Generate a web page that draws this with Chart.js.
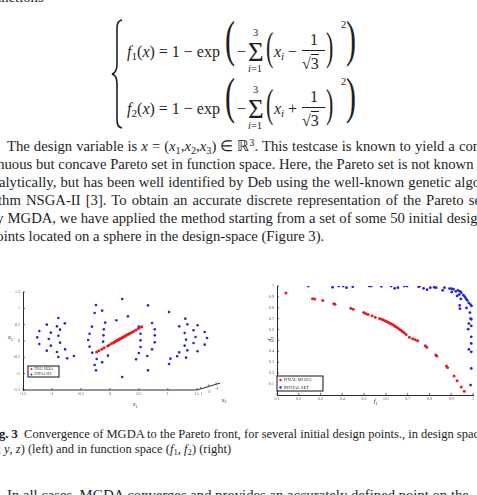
<!DOCTYPE html>
<html>
<head>
<meta charset="utf-8">
<script src="https://cdn.jsdelivr.net/npm/chart.js@4.4.0/dist/chart.umd.min.js"></script>
<style>
  html, body { margin: 0; padding: 0; background: #fff; }
  body { width: 477px; height: 495px; position: relative; overflow: hidden;
         font-family: "Liberation Serif", serif; color: #1e1e1e; }
  sub, sup { line-height: 0; font-size: 70%; }
  sub { vertical-align: -0.25em; }
  sup { vertical-align: 0.45em; }
  .ln { position: absolute; left: -11px; white-space: nowrap; font-size: 14.7px; line-height: 18px; }
  .just { width: 496px; text-align: justify; text-align-last: justify; }
  .cap { font-size: 12.5px; left: -12px; }
  .m { position: absolute; line-height: 1; white-space: nowrap; font-size: 16px; font-family: "Liberation Serif", serif; }
  .big { font-size: 50px; transform: scaleX(0.6); transform-origin: left top; }
  .mid { font-size: 40px; transform: scaleX(0.55); transform-origin: left top; }
  .sm { font-size: 10.5px; }
  .bar { position: absolute; width: 23px; border-top: 1px solid #1e1e1e; }
  .chart { position: absolute; }
</style>
</head>
<body>

<div class="ln" style="top:-12px;">functions</div>

<!-- system of equations -->
<svg style="position:absolute;left:0;top:0" width="140" height="140">
  <path d="M122,20 C117,21 117,25 117,31 L117,64 C117,70 116,73 112,74 C116,75 117,78 117,84 L117,117 C117,123 117,127 122,128"
        fill="none" stroke="#1e1e1e" stroke-width="1.6"/>
</svg>

<div class="m" style="left:127px;top:44px"><i>f</i><sub>1</sub>(<i>x</i>) = 1 − exp</div>
<div class="m big" style="left:225px;top:14px">(</div>
<div class="m" style="left:237px;top:44px">−</div>
<div class="m" style="left:248px;top:39px;font-size:27px">Σ</div>
<div class="m sm" style="left:253px;top:28px">3</div>
<div class="m sm" style="left:248px;top:64px"><i>i</i>=1</div>
<div class="m mid" style="left:266px;top:27px">(</div>
<div class="m" style="left:274px;top:44px"><i>x<sub>i</sub></i></div>
<div class="m" style="left:288px;top:44px">−</div>
<div class="m" style="left:310px;top:32px">1</div>
<div class="bar" style="left:302px;top:50px"></div>
<div class="m" style="left:302px;top:56px">√<span style="border-top:1px solid #1e1e1e">3</span></div>
<div class="m mid" style="left:326px;top:27px">)</div>
<div class="m sm" style="left:341px;top:20px">2</div>
<div class="m big" style="left:346px;top:14px">)</div>

<div class="m" style="left:127px;top:101px"><i>f</i><sub>2</sub>(<i>x</i>) = 1 − exp</div>
<div class="m big" style="left:225px;top:71px">(</div>
<div class="m" style="left:237px;top:101px">−</div>
<div class="m" style="left:248px;top:96px;font-size:27px">Σ</div>
<div class="m sm" style="left:253px;top:85px">3</div>
<div class="m sm" style="left:248px;top:121px"><i>i</i>=1</div>
<div class="m mid" style="left:266px;top:84px">(</div>
<div class="m" style="left:274px;top:101px"><i>x<sub>i</sub></i></div>
<div class="m" style="left:288px;top:101px">+</div>
<div class="m" style="left:310px;top:89px">1</div>
<div class="bar" style="left:302px;top:107px"></div>
<div class="m" style="left:302px;top:113px">√<span style="border-top:1px solid #1e1e1e">3</span></div>
<div class="m mid" style="left:326px;top:84px">)</div>
<div class="m sm" style="left:341px;top:77px">2</div>
<div class="m big" style="left:346px;top:71px">)</div>

<!-- paragraph -->
<div class="ln just" style="top:137px;text-indent:18px">The design variable is <i>x</i> = (<i>x</i><sub>1</sub>,<i>x</i><sub>2</sub>,<i>x</i><sub>3</sub>) ∈ ℝ<sup>3</sup>. This testcase is known to yield a con-</div>
<div class="ln just" style="top:155px">tinuous but concave Pareto set in function space. Here, the Pareto set is not known an-</div>
<div class="ln just" style="top:173px;left:-1px;width:486px">alytically, but has been well identified by Deb using the well-known genetic algo-</div>
<div class="ln just" style="top:191px">rithm NSGA-II [3]. To obtain an accurate discrete representation of the Pareto set</div>
<div class="ln just" style="top:209px">by MGDA, we have applied the method starting from a set of some 50 initial design</div>
<div class="ln" style="top:227px">points located on a sphere in the design-space (Figure 3).</div>

<div class="chart" style="left:0px;top:282px;width:230px;height:126px"><canvas id="left"></canvas></div>
<div class="chart" style="left:255px;top:278px;width:222px;height:132px"><canvas id="right"></canvas></div>

<div class="ln cap" style="top:425px"><b>Fig. 3</b>&nbsp; Convergence of MGDA to the Pareto front, for several initial design points., in design space</div>
<div class="ln cap" style="top:440px">(<i>x</i>, <i>y</i>, <i>z</i>) (left) and in function space (<i>f</i><sub>1</sub>, <i>f</i><sub>2</sub>) (right)</div>

<div class="ln" style="top:486px;text-indent:18px">In all cases, MGDA converges and provides an accurately defined point on the</div>

<script>
// design space (left): x1 horizontal, x3 vertical
const leftInitX = [-0.890, -1.090, -0.779, -0.914, -0.861, -1.219, -1.019, -0.890, -1.254, -1.055,
  -0.861, -1.219, -1.019, -0.773, -1.090, -0.914, -0.890, -0.738, -0.621,
  -0.240, -0.263, -0.134, -0.310, -0.081, -0.105, -0.351, -0.111, -0.375, -0.117,
  -0.351, -0.304, -0.035, -0.228, -0.263, -0.134, -0.240, 0.212, 0.311, 0.112, 0.212,
  0.657, 1.021, 0.727, 0.774, 0.528, 0.774, 0.528, 0.774, 0.528, 0.727, 0.499, 0.645, 0.452, 0.657, 0.499,
  1.302, 1.196, 1.337, 1.513, 1.443, 1.290, 1.636, 1.478, 1.677, 1.314,
  1.443, 1.636, 1.290, 1.337, 1.513, 1.196, 1.161, 1.314, 1.044, 1.021];
const leftInitY = [0.704, 0.500, 0.541, 0.449, 0.347, 0.306, 0.255, 0.163, 0.112, 0.061,
  -0.051, -0.092, -0.143, -0.255, -0.296, -0.337, -0.490, -0.531, -0.459,
  1.102, 0.857, 0.929, 0.439, 0.561, 0.357, 0.224, 0.173, 0.031, -0.020,
  -0.173, -0.357, -0.449, -0.551, -0.735, -0.653, -0.898, 1.286, 0.755, 0.633, -1.102,
  1.092, 0.888, 0.551, 0.357, 0.224, 0.173, 0.020, -0.041, -0.184, -0.255, -0.367, -0.459, -0.561, -0.898, 0.439,
  0.684, 0.449, 0.510, 0.480, 0.327, 0.245, 0.276, 0.122, 0.092, 0.041,
  -0.061, -0.112, -0.143, -0.286, -0.316, -0.347, -0.469, -0.510, -0.541, -0.704];
const leftFinalX = [-0.23, -0.19, -0.14, -0.10, -0.04, -0.01, 0.03, 0.06, 0.08, 0.10, 0.12, 0.13,
  0.15, 0.16, 0.18, 0.19, 0.21, 0.22, 0.24, 0.25, 0.27, 0.29, 0.31, 0.33, 0.35, 0.38, 0.41,
  0.45, 0.49, 0.52, 0.55];
const leftFinalY = [-0.34, -0.30, -0.25, -0.21, -0.15, -0.12, -0.08, -0.05, -0.03, -0.01, 0.01, 0.02,
  0.04, 0.05, 0.07, 0.08, 0.10, 0.11, 0.13, 0.14, 0.16, 0.18, 0.20, 0.22, 0.24, 0.27, 0.30,
  0.34, 0.38, 0.42, 0.44];

// function space (right)
const rightInitF1 = [0.244, 0.355, 0.383, 0.404, 0.419, 0.448, 0.524, 0.533, 0.579, 0.624, 0.640,
  0.655, 0.685, 0.697, 0.750, 0.756, 0.773, 0.789, 0.804, 0.822, 0.831, 0.861, 0.869, 0.892,
  0.901, 0.910, 0.902, 0.921, 0.931, 0.940, 0.946, 0.937, 0.956, 0.963, 0.927, 0.944, 0.968,
  0.974, 0.981, 0.989, 0.993, 0.939, 0.940, 0.970, 0.986, 0.989, 0.992, 0.981, 0.992, 0.978,
  0.992, 0.992, 0.981, 0.992, 0.992, 0.989];
const rightInitF2 = [1.000, 0.988, 1.000, 1.000, 0.985, 0.994, 1.000, 1.000, 0.997, 1.000, 0.979,
  0.985, 1.000, 1.000, 0.994, 1.000, 0.979, 0.966, 0.985, 0.988, 0.985, 0.960, 0.985, 0.976,
  0.976, 0.970, 0.945, 0.951, 0.960, 0.951, 0.939, 0.921, 0.915, 0.900, 0.909, 0.881, 0.884,
  0.869, 0.845, 0.829, 0.817, 0.823, 0.792, 0.799, 0.756, 0.701, 0.695, 0.655, 0.634, 0.604,
  0.534, 0.473, 0.418, 0.396, 0.244, 0.091];
const rightFinalF1 = [0.141, 0.263, 0.273, 0.310, 0.361, 0.366, 0.439, 0.450, 0.498, 0.507, 0.518,
  0.536, 0.551, 0.571, 0.580, 0.588, 0.596, 0.603, 0.610, 0.617, 0.623, 0.630, 0.636, 0.642,
  0.648, 0.655, 0.662, 0.669, 0.676, 0.684, 0.693, 0.708, 0.723, 0.735, 0.746, 0.781, 0.788,
  0.829, 0.834, 0.878, 0.883, 0.913, 0.927, 0.946, 0.960];
const rightFinalF2 = [0.936, 0.884, 0.881, 0.866, 0.838, 0.832, 0.796, 0.787, 0.756, 0.747, 0.738,
  0.726, 0.713, 0.701, 0.694, 0.688, 0.681, 0.675, 0.668, 0.661, 0.654, 0.646, 0.639, 0.631,
  0.623, 0.614, 0.604, 0.594, 0.583, 0.570, 0.556, 0.530, 0.515, 0.506, 0.497, 0.451, 0.439,
  0.366, 0.357, 0.265, 0.253, 0.174, 0.131, 0.073, 0.034];

const seriesLabels = ["FINAL MGDA", "INITIAL SET"];
const x1Ticks = [-1.5, -1, -0.5, 0, 0.5, 1, 1.5];
const x3Ticks = [-1.5, -1, -0.5, 0, 0.5, 1, 1.5];
const x2Ticks = ["1", "0", "-1"];
const f1Ticks = [0.1, 0.2, 0.3, 0.4, 0.5, 0.6, 0.7, 0.8, 0.9, 1];
const f2Ticks = [0.1, 0.2, 0.3, 0.4, 0.5, 0.6, 0.7, 0.8, 0.9, 1];

const RED = "rgb(232,28,28)";
const BLUE = "rgb(36,36,222)";
const INK = "#2a2a2a";

const zip = (xs, ys) => xs.map((v, i) => ({ x: v, y: ys[i] }));

function drawSub(ctx, base, sub, px, py, size, rot) {
  ctx.save();
  ctx.translate(px, py);
  if (rot) ctx.rotate(rot);
  ctx.fillStyle = INK;
  ctx.font = "italic " + size + "px 'Liberation Serif'";
  ctx.textBaseline = "alphabetic";
  ctx.fillText(base, 0, 0);
  const w = ctx.measureText(base).width;
  ctx.font = Math.round(size * 0.7) + "px 'Liberation Serif'";
  ctx.fillText(sub, w, size * 0.25);
  ctx.restore();
}

// inward tick marks, in-plot legend and axis names
const decor = {
  id: "decor",
  afterDraw(chart, args, o) {
    const { ctx, chartArea: a, scales: { x, y } } = chart;
    ctx.save();
    ctx.strokeStyle = INK;
    ctx.lineWidth = 0.7;
    x.ticks.forEach(t => {
      const p = x.getPixelForValue(t.value);
      ctx.beginPath(); ctx.moveTo(p, a.bottom); ctx.lineTo(p, a.bottom - 2); ctx.stroke();
    });
    y.ticks.forEach(t => {
      const p = y.getPixelForValue(t.value);
      ctx.beginPath(); ctx.moveTo(a.left, p); ctx.lineTo(a.left + 2, p); ctx.stroke();
    });

    // legend box
    const L = o.legend;
    const bx = a.left + L.dx, by = a.bottom - L.dy;
    ctx.fillStyle = "#fff";
    ctx.fillRect(bx, by, L.w, L.h);
    ctx.lineWidth = 1;
    ctx.strokeStyle = "#111";
    ctx.strokeRect(bx, by, L.w, L.h);
    chart.data.datasets.forEach((ds, i) => {
      const cy = by + L.h * (i + 0.5) / 2 + 0.3;
      ctx.fillStyle = ds.backgroundColor;
      ctx.beginPath(); ctx.arc(bx + 3.5, cy, L.r, 0, Math.PI * 2); ctx.fill();
      ctx.fillStyle = INK;
      ctx.font = L.font + "px 'Liberation Serif'";
      ctx.textBaseline = "middle";
      ctx.fillText(ds.label, bx + 6.5, cy);
    });

    (o.names || []).forEach(n => {
      drawSub(ctx, n.base, n.sub, x.getPixelForValue(n.x), y.getPixelForValue(n.y), n.size, n.rot);
    });
    ctx.restore();
  }
};

// bottom axis of the 3D box, ending in the slanted x2 depth axis
const depthAxis = {
  id: "depthAxis",
  afterDraw(chart) {
    const { ctx, scales: { x, y } } = chart;
    const x0 = x.getPixelForValue(x1Ticks[0]);
    const x1 = x.getPixelForValue(x1Ticks[x1Ticks.length - 1]);
    const yb = y.getPixelForValue(x3Ticks[0]);
    const xe = x.getPixelForValue(1.9), ye = y.getPixelForValue(-1.29);
    ctx.save();
    ctx.strokeStyle = INK;
    ctx.lineWidth = 1;
    ctx.beginPath(); ctx.moveTo(x0, yb); ctx.lineTo(x1, yb); ctx.lineTo(xe, ye); ctx.stroke();
    ctx.lineWidth = 0.7;
    ctx.fillStyle = "#555";
    ctx.font = "4px 'Liberation Serif'";
    ctx.textAlign = "center";
    x2Ticks.forEach((lab, i) => {
      const f = (i + 0.5) / x2Ticks.length;
      const px = x1 + (xe - x1) * f, py = yb + (ye - yb) * f;
      ctx.beginPath(); ctx.moveTo(px, py); ctx.lineTo(px, py - 2); ctx.stroke();
      ctx.fillText(lab, px + 1, py + 6);
    });
    ctx.restore();
  }
};

const tickFont = { family: "'Liberation Serif'", size: 4 };
const plainLabel = v => String(v);

new Chart(document.getElementById("left"), {
  type: "scatter",
  data: {
    datasets: [
      { label: seriesLabels[0], data: zip(leftFinalX, leftFinalY), backgroundColor: RED,
        pointRadius: 1.5, borderWidth: 0 },
      { label: seriesLabels[1], data: zip(leftInitX, leftInitY), backgroundColor: BLUE,
        pointRadius: 1.3, borderWidth: 0 }
    ]
  },
  options: {
    responsive: true,
    maintainAspectRatio: false,
    animation: false,
    layout: { padding: { top: 10, right: 10, left: 0, bottom: 0 } },
    plugins: {
      legend: { display: false },
      tooltip: { enabled: false },
      decor: {
        legend: { dx: 5, dy: 24, w: 31, h: 11, r: 1, font: 3 },
        names: [
          { base: "x", sub: "3", x: -1.76, y: 0.05, size: 6 },
          { base: "x", sub: "1", x: 0.4, y: -2.0, size: 6 },
          { base: "x", sub: "2", x: 1.93, y: -1.86, size: 6 }
        ]
      }
    },
    scales: {
      x: {
        type: "linear", min: -1.5, max: 1.9,
        afterBuildTicks: s => { s.ticks = x1Ticks.map(v => ({ value: v })); },
        afterFit: s => { s.height = 18; },
        border: { display: false },
        grid: { display: false, drawTicks: false },
        ticks: { font: tickFont, color: "#555", padding: 2, autoSkip: false, maxRotation: 0, callback: plainLabel }
      },
      y: {
        type: "linear", min: -1.5, max: 1.5,
        afterBuildTicks: s => { s.ticks = x3Ticks.map(v => ({ value: v })); },
        afterFit: s => { s.width = 23; },
        border: { color: INK, width: 1 },
        grid: { display: false, drawTicks: false },
        ticks: { font: tickFont, color: "#555", padding: 3, autoSkip: false, callback: plainLabel }
      }
    }
  },
  plugins: [depthAxis, decor]
});

new Chart(document.getElementById("right"), {
  type: "scatter",
  data: {
    datasets: [
      { label: seriesLabels[0], data: zip(rightFinalF1, rightFinalF2), backgroundColor: RED,
        pointRadius: 1.5, borderWidth: 0 },
      { label: seriesLabels[1], data: zip(rightInitF1, rightInitF2), backgroundColor: BLUE,
        pointRadius: 1.4, borderWidth: 0 }
    ]
  },
  options: {
    responsive: true,
    maintainAspectRatio: false,
    animation: false,
    layout: { padding: { top: 8, right: 3, left: 0, bottom: 0 } },
    plugins: {
      legend: { display: false },
      tooltip: { enabled: false },
      decor: {
        legend: { dx: 0, dy: 19, w: 46, h: 15, r: 1.2, font: 4.5 },
        names: [
          { base: "f", sub: "1", x: 0.545, y: -0.075, size: 6 },
          { base: "f", sub: "2", x: 0.078, y: 0.5, size: 6, rot: -Math.PI / 2 }
        ]
      }
    },
    scales: {
      x: {
        type: "linear", min: 0.1, max: 1,
        afterBuildTicks: s => { s.ticks = f1Ticks.map(v => ({ value: v })); },
        afterFit: s => { s.height = 15; },
        border: { color: INK, width: 1 },
        grid: { display: false, drawTicks: false },
        ticks: { font: tickFont, color: "#555", padding: 2, autoSkip: false, maxRotation: 0, callback: plainLabel }
      },
      y: {
        type: "linear", min: 0, max: 1,
        afterBuildTicks: s => { s.ticks = f2Ticks.map(v => ({ value: v })); },
        afterFit: s => { s.width = 22; },
        border: { color: INK, width: 1 },
        grid: { display: false, drawTicks: false },
        ticks: { font: tickFont, color: "#555", padding: 3, autoSkip: false, callback: plainLabel }
      }
    }
  },
  plugins: [decor]
});
</script>
</body>
</html>
